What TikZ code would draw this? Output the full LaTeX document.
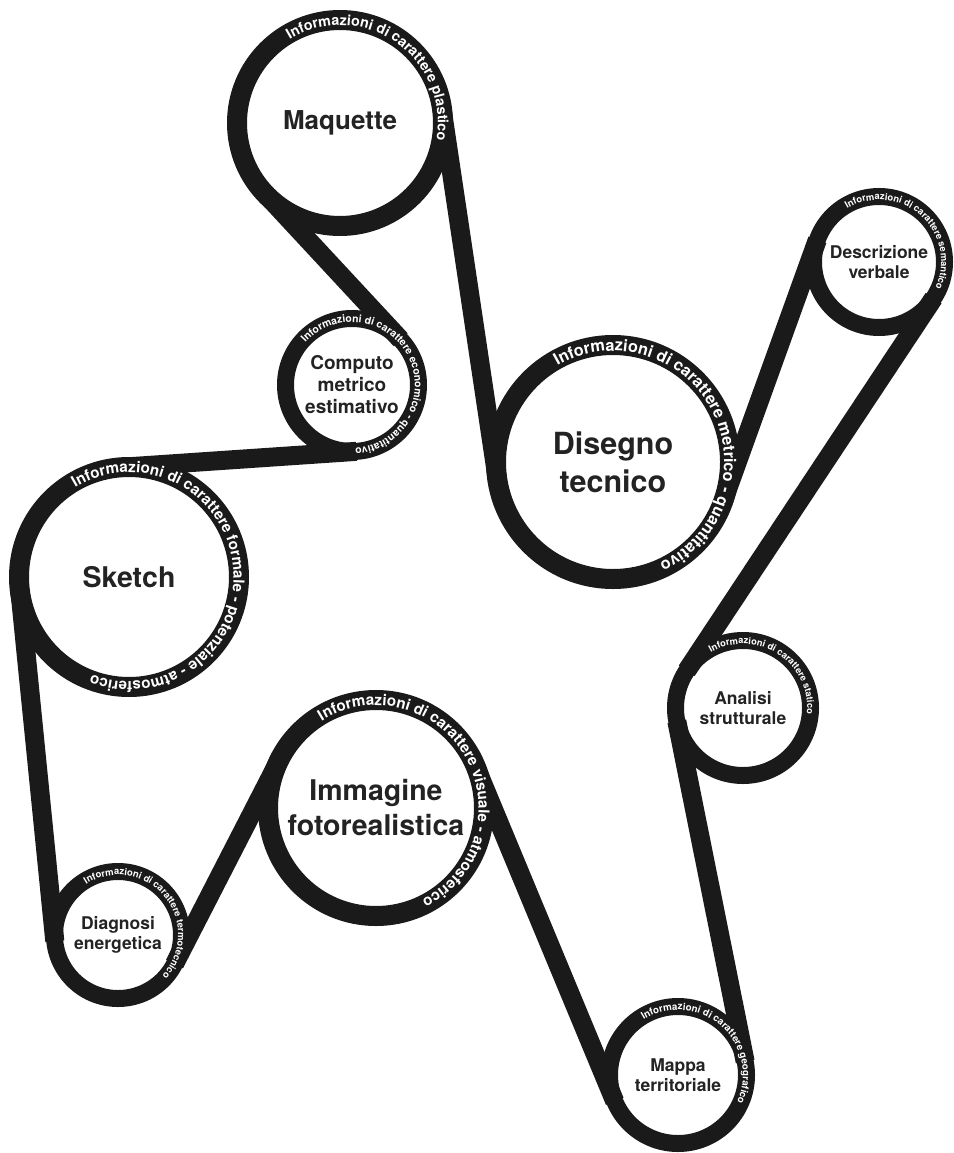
\documentclass[tikz,border=0pt]{standalone}
\usepackage{fontspec}
\setmainfont{TeX Gyre Heros}
\usetikzlibrary{calc,decorations.text}
\definecolor{ink}{HTML}{1A1A1A}
\definecolor{labelink}{HTML}{232323}

% font of the captions running round the rings
\newcommand\currentringsize{10}
\newcommand\ringstyle{\color{white}\fontsize{\currentringsize}{\currentringsize}\selectfont\bfseries}

% caption along a ring: node, ring radius, start angle, font size, text
\newcommand\ringtext[5]{%
  \renewcommand\currentringsize{#4}%
  \pgfmathsetmacro\ringbase{#2-0.36*#4}%
  \path[decorate,decoration={text along path,text={|\ringstyle|#5}}]
    (#1.center) ++(#3:\ringbase pt) arc[start angle=#3,end angle=#3-340,radius=\ringbase pt];}

% crossing belt segment between two rings: nodes, radii, side
\newcommand\crossbelt[5]{%
  \path[belt] let \p1=(#1.center), \p2=(#2.center),
      \n1={atan2(\y2-\y1,\x2-\x1)},
      \n2={veclen(\x2-\x1,\y2-\y1)},
      \n3={\n1+(#5)*acos((#3+#4)/\n2)}
    in ($(\p1)+(\n3:#3pt)$) -- ($(\p2)+(\n3+180:#4pt)$);}

% open belt segment (both rings on the same side)
\newcommand\openbelt[5]{%
  \path[belt] let \p1=(#1.center), \p2=(#2.center),
      \n1={atan2(\y2-\y1,\x2-\x1)},
      \n2={veclen(\x2-\x1,\y2-\y1)},
      \n3={\n1+(#5)*acos((#3-#4)/\n2)}
    in ($(\p1)+(\n3:#3pt)$) -- ($(\p2)+(\n3:#4pt)$);}

\tikzset{
  ring/.style={circle,draw=ink,line width=#1,fill=white,outer sep=0pt,inner sep=0pt,
    text=labelink,align=center},
  bigring/.style={ring=20pt},
  smallring/.style={ring=17pt},
  belt/.style={draw=ink,line width=19pt},
  smalllabel/.style={font=\fontsize{17.5}{20.5}\selectfont\bfseries},
}

\begin{document}
\begin{tikzpicture}[x=1pt,y=1pt]
\useasboundingbox (0,0) rectangle (953,-1153);

% rings (radius of the stroke centre line given as minimum size / 2)
\node[bigring,minimum size=206pt,font=\fontsize{26}{32}\selectfont\bfseries] (M) at (340,-123) {Maquette};
\node[smallring,minimum size=133pt,font=\fontsize{19}{22}\selectfont\bfseries] (C) at (352,-385) {Computo\\metrico\\estimativo};
\node[bigring,minimum size=234pt,font=\fontsize{30.5}{38}\selectfont\bfseries] (D) at (613,-462) {Disegno\\tecnico};
\node[smallring,minimum size=131pt,smalllabel] (V) at (879,-262) {Descrizione\\verbale};
\node[bigring,minimum size=220pt,font=\fontsize{28.5}{34}\selectfont\bfseries] (S) at (129,-577) {Sketch};
\node[smallring,minimum size=135pt,smalllabel] (A) at (743,-708) {Analisi\\strutturale};
\node[bigring,minimum size=216pt,font=\fontsize{28.5}{35}\selectfont\bfseries] (I) at (376,-808) {Immagine\\fotorealistica};
\node[smallring,minimum size=127pt,smalllabel] (E) at (118,-935) {Diagnosi\\energetica};
\node[smallring,minimum size=137pt,smalllabel] (P) at (678,-1075) {Mappa\\territoriale};

% the belt running from ring to ring
\crossbelt{M}{D}{103}{117}{1}
\crossbelt{D}{V}{117}{65.5}{-1}
\crossbelt{V}{A}{65.5}{67.5}{1}
\crossbelt{A}{P}{67.5}{68.5}{-1}
\crossbelt{P}{I}{68.5}{108}{1}
\crossbelt{I}{E}{108}{63.5}{-1}
\openbelt{E}{S}{63.5}{110}{1}
\crossbelt{S}{C}{110}{66.5}{1}
\crossbelt{C}{M}{66.5}{103}{-1}

% captions on the rings
\ringtext{M}{103}{121}{14.3}{Informazioni di carattere plastico}
\ringtext{C}{66.5}{138}{10.4}{Informazioni di carattere economico - quantitativo}
\ringtext{D}{117}{120}{16.3}{Informazioni di carattere metrico - quantitativo}
\ringtext{V}{65.5}{121}{9.4}{Informazioni di carattere semantico}
\ringtext{S}{110}{121}{15.2}{Informazioni di carattere formale - potenziale - atmosferico}
\ringtext{A}{67.5}{120}{9.3}{Informazioni di carattere statico}
\ringtext{I}{108}{122}{15.2}{Informazioni di carattere visuale - atmosferico}
\ringtext{E}{63.5}{122}{9.5}{Informazioni di carattere termotecnico}
\ringtext{P}{68.5}{122}{9.8}{Informazioni di carattere geografico}
\end{tikzpicture}
\end{document}
